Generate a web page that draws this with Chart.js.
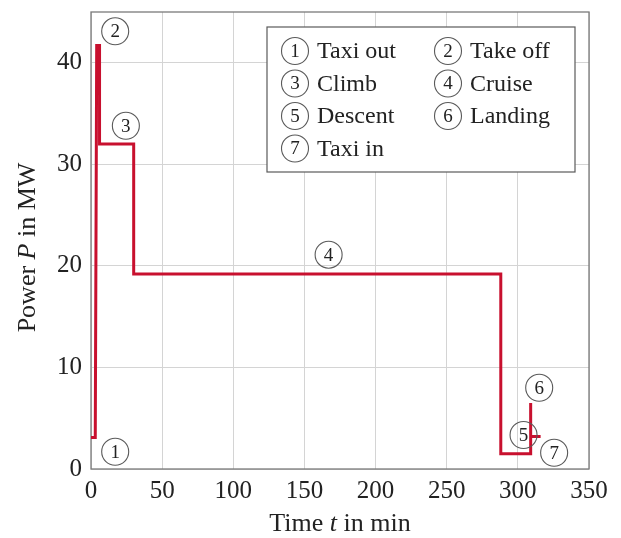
<!DOCTYPE html>
<html>
<head>
<meta charset="utf-8">
<script src="https://cdn.jsdelivr.net/npm/chart.js@4"></script>
<style>
  html, body { margin: 0; padding: 0; background: #fff; }
  #wrap { width: 621px; height: 538px; }
</style>
</head>
<body>
<div id="wrap"><canvas id="powerChart" width="621" height="538"></canvas></div>
<script>
// flight mission power profile (step curve)
const times = [0, 3, 4, 6, 6, 30, 30, 288, 288, 309, 309, 309, 316];
const power = [3.1, 3.1, 41.7, 41.7, 32, 32, 19.2, 19.2, 1.5, 1.5, 6.5, 3.2, 3.2];

const xTicks = [0, 50, 100, 150, 200, 250, 300, 350];
const yTicks = [0, 10, 20, 30, 40];

const phaseNumbers = [1, 2, 3, 4, 5, 6, 7];
const phaseNames = ["Taxi out", "Take off", "Climb", "Cruise", "Descent", "Landing", "Taxi in"];
// where the circled numbers sit, in data units
const labelTimes = [17, 17, 24.5, 167, 304, 315, 325.5];
const labelPower = [1.7, 43.1, 33.8, 21.1, 3.35, 8.0, 1.6];

const serif = "'Liberation Serif', 'DejaVu Serif', serif";
const lineColor = "#c8102e";

function circledNumber(ctx, cx, cy, n) {
    ctx.save();
    ctx.beginPath();
    ctx.arc(cx, cy, 13.5, 0, Math.PI * 2);
    ctx.strokeStyle = "#5a5a5a";
    ctx.lineWidth = 1.1;
    ctx.stroke();
    ctx.fillStyle = "#222";
    ctx.font = "19px " + serif;
    ctx.textAlign = "center";
    ctx.textBaseline = "middle";
    ctx.fillText(String(n), cx, cy + 1);
    ctx.restore();
}

// draws text made of parts, some italic, centred at (cx, cy)
function mixedText(ctx, parts, cx, cy, size) {
    let total = 0;
    parts.forEach((p) => {
        ctx.font = (p.italic ? "italic " : "") + size + "px " + serif;
        p.w = ctx.measureText(p.text).width;
        total += p.w;
    });
    let x = cx - total / 2;
    parts.forEach((p) => {
        ctx.font = (p.italic ? "italic " : "") + size + "px " + serif;
        ctx.fillText(p.text, x, cy);
        x += p.w;
    });
}

const framePlugin = {
    id: "frame",
    beforeDatasetsDraw(chart) {
        const { ctx, chartArea: a } = chart;
        ctx.save();
        ctx.strokeStyle = "#7a7a7a";
        ctx.lineWidth = 1.3;
        ctx.strokeRect(a.left, a.top, a.width, a.height);
        ctx.restore();
    },
    afterDatasetsDraw(chart) {
        const { ctx, chartArea: a, scales } = chart;
        const xs = scales.x, ys = scales.y;

        for (let i = 0; i < phaseNumbers.length; i++) {
            circledNumber(ctx, xs.getPixelForValue(labelTimes[i]), ys.getPixelForValue(labelPower[i]), phaseNumbers[i]);
        }

        // legend box
        const bx = a.right - 322, by = a.top + 15, bw = 308, bh = 145;
        ctx.save();
        ctx.fillStyle = "#fff";
        ctx.fillRect(bx, by, bw, bh);
        ctx.strokeStyle = "#5a5a5a";
        ctx.lineWidth = 1.2;
        ctx.strokeRect(bx, by, bw, bh);
        ctx.textBaseline = "middle";
        for (let i = 0; i < phaseNames.length; i++) {
            const col = i % 2, row = Math.floor(i / 2);
            const cx = bx + 28 + col * 153;
            const cy = by + 24 + row * 32.5;
            circledNumber(ctx, cx, cy, phaseNumbers[i]);
            ctx.fillStyle = "#222";
            ctx.font = "24px " + serif;
            ctx.textAlign = "left";
            ctx.fillText(phaseNames[i], cx + 22, cy + 1);
        }
        ctx.restore();

        // axis titles
        ctx.save();
        ctx.fillStyle = "#222";
        ctx.textBaseline = "middle";
        ctx.textAlign = "left";
        mixedText(ctx, [{ text: "Time " }, { text: "t", italic: true }, { text: " in min" }],
            (a.left + a.right) / 2, 524, 26);
        ctx.translate(28, (a.top + a.bottom) / 2 + 7);
        ctx.rotate(-Math.PI / 2);
        mixedText(ctx, [{ text: "Power " }, { text: "P", italic: true }, { text: " in MW" }], 0, 0, 26);
        ctx.restore();
    },
};

const points = times.map((t, i) => ({ x: t, y: power[i] }));

new Chart(document.getElementById("powerChart").getContext("2d"), {
    type: "line",
    data: {
        datasets: [
            {
                label: "Power",
                data: points,
                borderColor: lineColor,
                borderWidth: 3,
                pointRadius: 0,
                tension: 0,
                fill: false,
                borderJoinStyle: "miter",
            },
        ],
    },
    options: {
        responsive: false,
        animation: false,
        layout: { padding: { top: 12, right: 32, left: 0, bottom: 0 } },
        plugins: {
            legend: { display: false },
            tooltip: { enabled: false },
        },
        scales: {
            x: {
                type: "linear",
                min: 0,
                max: 350,
                afterBuildTicks: (scale) => {
                    scale.ticks = xTicks.map((v) => ({ value: v }));
                },
                afterFit: (scale) => {
                    scale.height = 69;
                    scale.paddingLeft = 0;
                    scale.paddingRight = 0;
                },
                ticks: {
                    font: { family: serif, size: 25 },
                    color: "#222",
                    padding: 7,
                    maxRotation: 0,
                },
                grid: { color: "#d4d4d4", lineWidth: 1, drawTicks: false },
                border: { display: false },
            },
            y: {
                min: 0,
                max: 45,
                afterBuildTicks: (scale) => {
                    scale.ticks = yTicks.map((v) => ({ value: v }));
                },
                afterFit: (scale) => {
                    scale.width = 91;
                    scale.paddingTop = 0;
                    scale.paddingBottom = 0;
                },
                ticks: {
                    font: { family: serif, size: 25 },
                    color: "#222",
                    padding: 9,
                },
                grid: { color: "#d4d4d4", lineWidth: 1, drawTicks: false },
                border: { display: false },
            },
        },
    },
    plugins: [framePlugin],
});
</script>
</body>
</html>
